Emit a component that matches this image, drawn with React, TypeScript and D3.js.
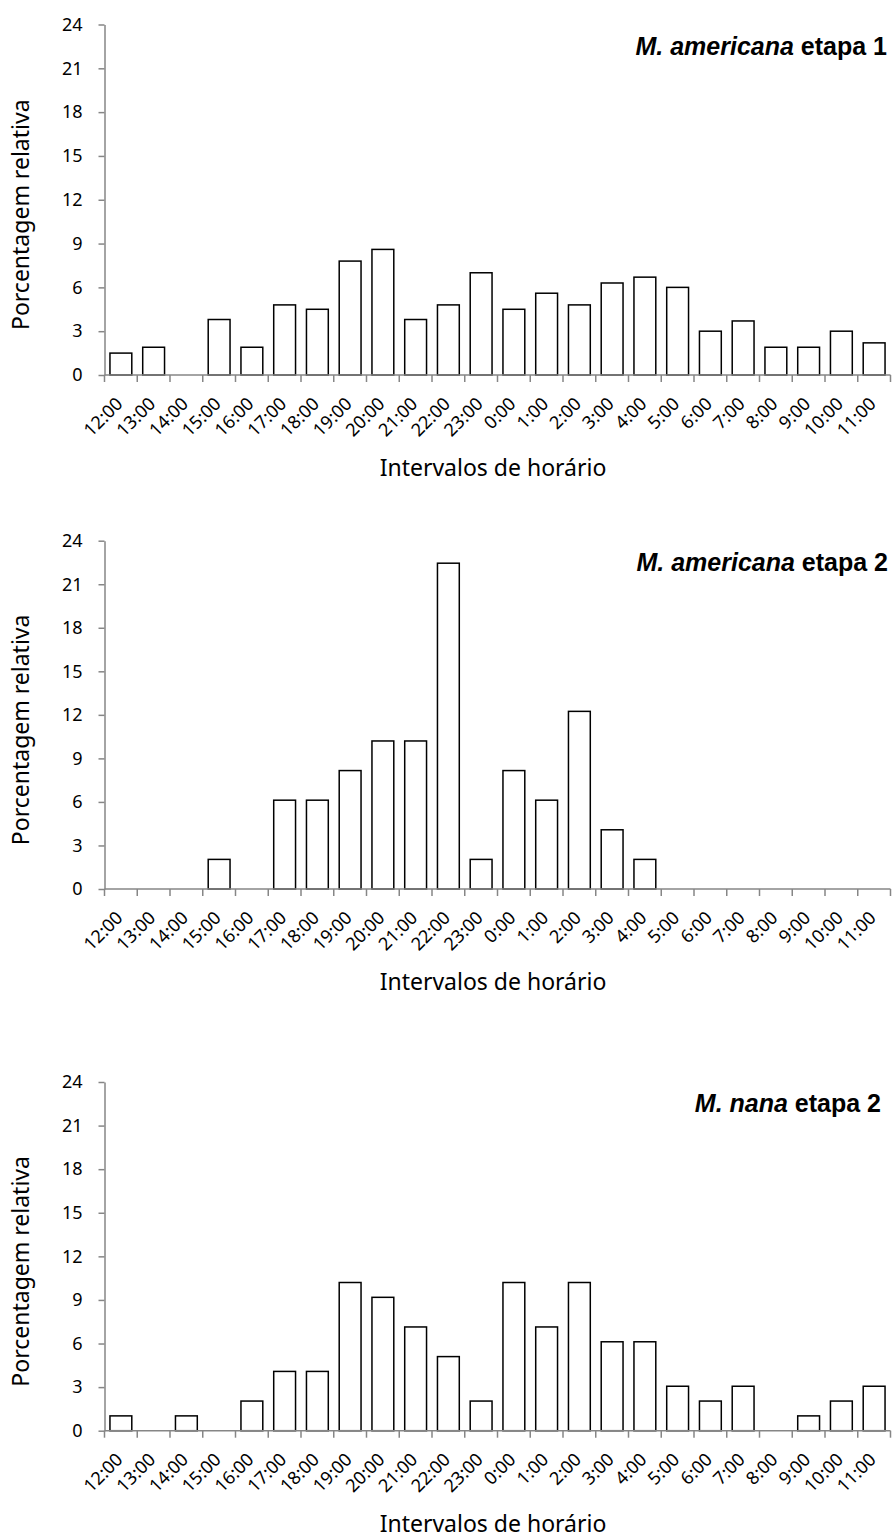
import React, { useRef, useEffect } from 'react';
import * as d3 from 'd3';

// time intervals on the x axis
const hours = ['12:00', '13:00', '14:00', '15:00', '16:00', '17:00', '18:00', '19:00', '20:00', '21:00', '22:00', '23:00',
  '0:00', '1:00', '2:00', '3:00', '4:00', '5:00', '6:00', '7:00', '8:00', '9:00', '10:00', '11:00'];

// relative percentages
const americana1 = [1.5, 1.9, 0, 3.8, 1.9, 4.8, 4.5, 7.8, 8.6, 3.8, 4.8, 7.0, 4.5, 5.6, 4.8, 6.3, 6.7, 6.0, 3.0, 3.7, 1.9, 1.9, 3.0, 2.2];
const americana2 = [0, 0, 0, 2.04, 0, 6.12, 6.12, 8.16, 10.2, 10.2, 22.45, 2.04, 8.16, 6.12, 12.24, 4.08, 2.04, 0, 0, 0, 0, 0, 0, 0];
const nana2 = [1.02, 0, 1.02, 0, 2.04, 4.08, 4.08, 10.2, 9.18, 7.14, 5.1, 2.04, 10.2, 7.14, 10.2, 6.12, 6.12, 3.06, 2.04, 3.06, 0, 1.02, 2.04, 3.06];

const yTicks = [0, 3, 6, 9, 12, 15, 18, 21, 24];

const species = ['M. americana', 'M. americana', 'M. nana'];
const stages = ['etapa 1', 'etapa 2', 'etapa 2'];
const series = [americana1, americana2, nana2];

// vertical placement of each panel (top of axis, zero line) and title right edge
const panelTops = [24.5, 540.7, 1082];
const panelBottoms = [375, 889, 1430.7];
const titleRight = [887, 888, 881];

const W = 892;
const H = 1538;
const left = 104.5;
const right = 890.5;
const axisColor = '#868686';
const font = '"Noto Sans", "Open Sans", sans-serif';

function App() {
  const svgRef = useRef(null);

  useEffect(() => {
    const svg = d3.select(svgRef.current);
    svg.selectAll('*').remove();

    const x = d3.scaleBand().domain(hours).range([left, right]).paddingInner(1 / 3).paddingOuter(1 / 6);
    const xb = d3.scaleBand().domain(hours).range([left, right]); // category slots for ticks/labels

    series.forEach((values, p) => {
      const y = d3.scaleLinear().domain([0, 24]).range([panelBottoms[p], panelTops[p]]);
      const g = svg.append('g');

      // y axis
      const yAxis = g.append('g')
        .attr('transform', `translate(${left},0)`)
        .call(d3.axisLeft(y).tickValues(yTicks).tickSize(6).tickPadding(16).tickSizeOuter(0));
      yAxis.select('.domain').attr('stroke', axisColor).attr('stroke-width', 1.5);
      yAxis.selectAll('.tick line').attr('stroke', axisColor).attr('stroke-width', 1.5);
      yAxis.selectAll('.tick text')
        .attr('font-family', font).attr('font-size', 18).attr('fill', '#000');

      // bars
      g.selectAll('rect')
        .data(values.map((v, i) => ({ h: hours[i], v })).filter(d => d.v > 0))
        .join('rect')
        .attr('x', d => x(d.h))
        .attr('width', x.bandwidth())
        .attr('y', d => y(d.v))
        .attr('height', d => y(0) - y(d.v))
        .attr('fill', '#fff')
        .attr('stroke', '#000')
        .attr('stroke-width', 1.5);

      // x axis line + boundary ticks
      g.append('line')
        .attr('x1', left).attr('x2', right)
        .attr('y1', y(0)).attr('y2', y(0))
        .attr('stroke', axisColor).attr('stroke-width', 1.5);
      g.selectAll('.xtick')
        .data([...hours.map(h => xb(h)), right])
        .join('line')
        .attr('class', 'xtick')
        .attr('x1', d => d).attr('x2', d => d)
        .attr('y1', y(0)).attr('y2', y(0) + 7)
        .attr('stroke', axisColor).attr('stroke-width', 1.5);

      // rotated tick labels
      g.selectAll('.xlabel')
        .data(hours)
        .join('text')
        .attr('class', 'xlabel')
        .attr('text-anchor', 'end')
        .attr('font-family', font)
        .attr('font-size', 18)
        .attr('transform', d => `translate(${xb(d) + xb.bandwidth() / 2 + 3},${y(0) + 30}) rotate(-45)`)
        .text(d => d);

      // x axis title
      g.append('text')
        .attr('x', 493)
        .attr('y', y(0) + 101)
        .attr('text-anchor', 'middle')
        .attr('font-family', font)
        .attr('font-size', 23)
        .text('Intervalos de horário');

      // y axis title
      g.append('text')
        .attr('transform', `translate(29,${(panelTops[p] + panelBottoms[p]) / 2 + 15}) rotate(-90)`)
        .attr('text-anchor', 'middle')
        .attr('font-family', font)
        .attr('font-size', 23)
        .text('Porcentagem relativa');

      // panel title
      const t = g.append('text')
        .attr('x', titleRight[p])
        .attr('y', panelTops[p] + 30)
        .attr('text-anchor', 'end')
        .attr('font-family', '"Liberation Sans", Arial, sans-serif')
        .attr('font-weight', 'bold')
        .attr('font-size', 25);
      t.append('tspan').attr('font-style', 'italic').text(species[p]);
      t.append('tspan').text(' ' + stages[p]);
    });
  }, []);

  return (
    <div>
      <svg ref={svgRef} width={W} height={H} style={{ position: 'absolute', left: 0, top: 0, background: '#fff' }}></svg>
    </div>
  );
}

export default App;
